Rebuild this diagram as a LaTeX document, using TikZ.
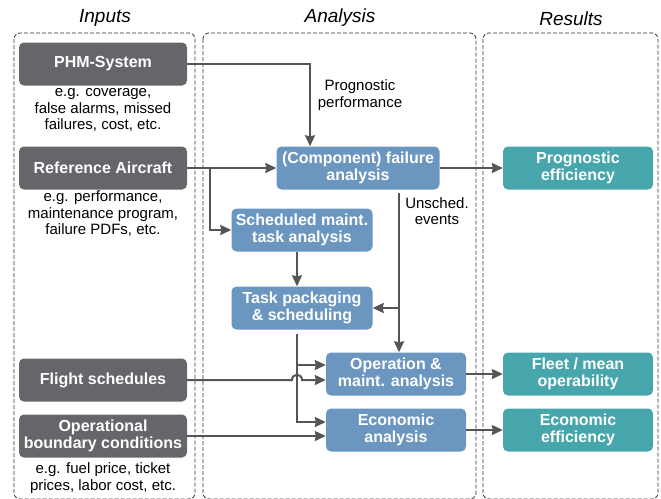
\documentclass[tikz,border=0pt]{standalone}
\usepackage{fontspec}
\setmainfont{Liberation Sans}
\usetikzlibrary{arrows.meta}

\definecolor{inputgray}{HTML}{646669}
\definecolor{analysisblue}{HTML}{6A96BF}
\definecolor{resultteal}{HTML}{47A6AC}
\definecolor{linegray}{HTML}{555555}
\definecolor{framegray}{HTML}{333333}

\begin{document}
\begin{tikzpicture}[x=1pt, y=-1pt,
    box/.style={rounded corners=5pt, text=white, align=center, inner sep=0pt,
      font=\fontsize{16}{16.5}\selectfont\bfseries, minimum height=43pt},
    inbox/.style={box, fill=inputgray, minimum width=168pt},
    anbox/.style={box, fill=analysisblue},
    resbox/.style={box, fill=resultteal, minimum width=150pt},
    note/.style={font=\fontsize{15}{16.5}\selectfont, align=center},
    heading/.style={font=\fontsize{19}{21}\selectfont\itshape},
    frame/.style={draw=framegray, dash pattern=on 4pt off 2pt, rounded corners=6pt, line width=0.8pt},
    arr/.style={draw=linegray, line width=2pt, -{Stealth[length=11pt,width=10pt,inset=1pt]}}
  ]
    \useasboundingbox (0,0) rectangle (661,498);

    % Column headings and dashed frames
    \node[heading] (hin) at (105,18) {Inputs};
    \node[heading] (han) at (340,18) {Analysis};
    \node[heading] (hres) at (571,19) {Results};
    \draw[frame] (14,33) rectangle (195,499);
    \draw[frame] (203,33) rectangle (476,499);
    \draw[frame] (483,33) rectangle (658,499);

    % Inputs
    \node[inbox] (phm) at (103,64) {PHM-System};
    \node[note] (phmnote) at (103,110) {e.g. coverage,\\false alarms, missed\\failures, cost, etc.};
    \node[inbox] (ref) at (103,168) {Reference Aircraft};
    \node[note] (refnote) at (103,214) {e.g. performance,\\maintenance program,\\failure PDFs, etc.};
    \node[inbox] (flight) at (103,380) {Flight schedules};
    \node[inbox] (bound) at (103,436) {Operational\\boundary conditions};
    \node[note] (boundnote) at (103,478) {e.g. fuel price, ticket\\prices, labor cost, etc.};

    % Analysis
    \node[anbox, minimum width=163pt] (fail) at (358,168) {(Component) failure\\analysis};
    \node[anbox, minimum width=141pt] (sched) at (302,230) {Scheduled maint.\\task analysis};
    \node[anbox, minimum width=141pt] (task) at (302,308) {Task packaging\\\& scheduling};
    \node[anbox, minimum width=140pt] (oper) at (396,374) {Operation \&\\maint. analysis};
    \node[anbox, minimum width=140pt] (econ) at (396,430) {Economic\\analysis};

    % Results
    \node[resbox] (progeff) at (578,168) {Prognostic\\efficiency};
    \node[resbox] (fleet) at (578,374) {Fleet / mean\\operability};
    \node[resbox] (econeff) at (578,430) {Economic\\efficiency};

    % Labels on the connectors
    \node[note] (proglabel) at (360,95) {Prognostic\\performance};
    \node[note] (unschedlabel) at (437,211) {Unsched.\\events};

    % Branch points
    \coordinate (refsplit) at (210,168);
    \coordinate (failout) at (399,193);
    \coordinate (pkgout) at (297,334);
    \coordinate (pkgsplit) at (297,365);

    % Connectors
    \draw[arr] (phm.east) -| ([xshift=-48pt]fail.north);
    \draw[arr] (ref.east) -- (fail.west);
    \draw[arr] (refsplit) |- (sched.west);
    \draw[arr] (fail.east) -- (progeff.west);
    \draw[arr] (failout) -- (failout |- oper.north);
    \draw[arr] (failout |- task.east) -- (task.east);
    \draw[arr] ([xshift=-5pt]sched.south) -- ([xshift=-5pt]task.north);
    \draw[arr] (pkgout) |- ([yshift=8pt]econ.west);
    \draw[arr] (pkgsplit) -- (pkgsplit -| oper.west);
    \draw[arr] (flight.east) -- (292,380) .. controls (292,373) and (302,373) .. (302,380) -- (flight.east -| oper.west);
    \draw[arr] (bound.east) -- (bound.east -| econ.west);
    \draw[arr] (oper.east) -- (fleet.west);
    \draw[arr] (econ.east) -- (econeff.west);
\end{tikzpicture}
\end{document}
